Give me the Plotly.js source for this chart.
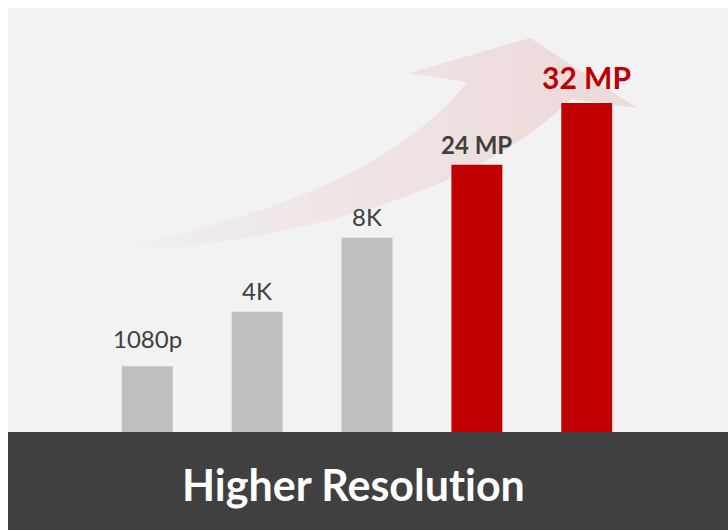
<!DOCTYPE html>
<html>
<head>
<meta charset="utf-8">
<script src="https://cdn.plot.ly/plotly-3.0.1.min.js"></script>
<style>
html,body{margin:0;padding:0;background:#fff;}
#chart{width:728px;height:530px;}
svg text{font-variant-ligatures:none !important;font-feature-settings:"liga" 0, "clig" 0 !important;}
</style>
</head>
<body>
<div id="chart"></div>
<script>
// ---- data ----
const categories = ['1080p', '4K', '8K', '24 MP', '32 MP'];
const values = [6.4, 11.7, 18.9, 26.0, 32.0];
const barLabels = ['1080p', '4K', '8K', '24 MP', '32 MP'];
const footerText = 'Higher Resolution';

// ---- styles ----
const GRAY = '#bfbfbf', RED = '#c00000', DARK = '#404040';
const barColors = [GRAY, GRAY, GRAY, RED, RED];
const labelStyle = [
  {color: DARK, size: 24, weight: 400, shift: 11},
  {color: DARK, size: 24, weight: 400, shift: 5},
  {color: DARK, size: 24, weight: 400, shift: 5},
  {color: DARK, size: 24, weight: 700, shift: 4},
  {color: RED, size: 30, weight: 700, shift: 6}
];
const FONT = 'Lato, "Open Sans", sans-serif';

// ---- decorative curved arrow (pixel-space decoration) ----
function bez(p0, p1, p2, p3, n) {
  const pts = [];
  for (let i = 0; i <= n; i++) {
    const t = i / n, u = 1 - t;
    pts.push([
      u*u*u*p0[0] + 3*u*u*t*p1[0] + 3*u*t*t*p2[0] + t*t*t*p3[0],
      u*u*u*p0[1] + 3*u*u*t*p1[1] + 3*u*t*t*p2[1] + t*t*t*p3[1]
    ]);
  }
  return pts;
}
const tail = [85, 254];
const upper = bez(tail, [250, 225], [400, 170], [467, 82], 40);
const head = [[409, 73], [530, 38], [637, 108], [571, 99]];
const lower = bez([571, 99], [480, 190], [300, 245], tail, 40);
const arrowPts = upper.concat(head, lower);
const arrowTrace = {
  type: 'scatter', mode: 'lines',
  x: arrowPts.map(p => p[0]), y: arrowPts.map(p => p[1]),
  xaxis: 'x', yaxis: 'y',
  fill: 'toself',
  line: {width: 0, color: 'rgba(0,0,0,0)'},
  fillgradient: {
    type: 'horizontal',
    start: 85, stop: 560,
    colorscale: [[0, 'rgba(192,0,0,0)'], [0.5, 'rgba(192,0,0,0.05)'], [1, 'rgba(192,0,0,0.095)']]
  },
  hoverinfo: 'skip', showlegend: false
};

const barTrace = {
  type: 'bar',
  x: categories, y: values,
  xaxis: 'x2', yaxis: 'y2',
  marker: {color: barColors, line: {width: 0}},
  width: 0.4636,
  hoverinfo: 'skip', showlegend: false
};

const annotations = categories.map((c, i) => ({
  xref: 'x2', yref: 'y2', x: c, y: values[i],
  text: barLabels[i], showarrow: false,
  xanchor: 'center', yanchor: 'bottom', yshift: labelStyle[i].shift,
  font: {family: FONT, size: labelStyle[i].size, color: labelStyle[i].color, weight: labelStyle[i].weight}
}));
annotations.push({
  xref: 'paper', yref: 'paper', x: 0.4792, y: -0.124,
  text: footerText, showarrow: false,
  xanchor: 'center', yanchor: 'middle',
  font: {family: FONT, size: 43, color: '#ffffff', weight: 700}
});

const hidden = {visible: false, showgrid: false, zeroline: false, fixedrange: true};
const layout = {
  width: 728, height: 530,
  margin: {l: 8, r: 0, t: 8, b: 98, pad: 0},
  paper_bgcolor: '#ffffff',
  plot_bgcolor: '#f2f2f2',
  showlegend: false,
  xaxis: Object.assign({range: [8, 728]}, hidden),
  yaxis: Object.assign({range: [432, 8]}, hidden),
  xaxis2: Object.assign({type: 'category', range: [-1.268, 5.286], overlaying: 'x'}, hidden),
  yaxis2: Object.assign({range: [0, 41.24], overlaying: 'y'}, hidden),
  shapes: [{
    type: 'rect', xref: 'paper', yref: 'paper',
    x0: 0, x1: 1, y0: -98/424, y1: 0,
    fillcolor: DARK, line: {width: 0}, layer: 'below'
  }],
  annotations: annotations
};

Plotly.newPlot('chart', [arrowTrace, barTrace], layout, {staticPlot: true, displayModeBar: false});
</script>
</body>
</html>
